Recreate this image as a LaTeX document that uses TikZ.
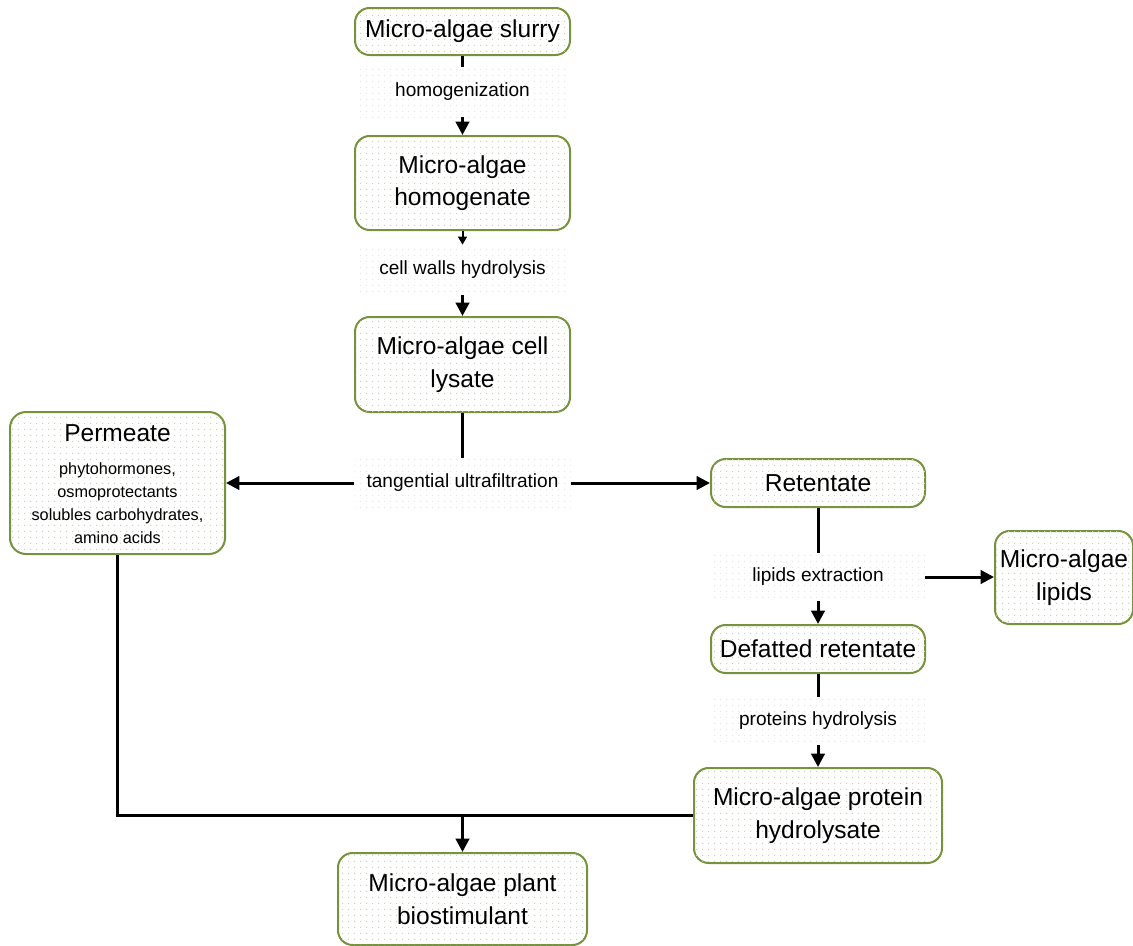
\documentclass[tikz,border=0pt]{standalone}
\usepackage{fontspec}
\setmainfont{Liberation Sans}
\usetikzlibrary{arrows.meta,patterns.meta}
\definecolor{olivebd}{RGB}{118,146,60}
\definecolor{dotgreen}{RGB}{200,215,165}
\definecolor{dotgrey}{RGB}{230,230,230}
\tikzdeclarepattern{name=mydots, type=uncolored,
  bounding box={(0pt,0pt) and (4.5pt,4.5pt)},
  tile size={(4.5pt,4.5pt)},
  code={\fill (0pt,0pt) rectangle (1pt,1pt);}}
\tikzset{
  box/.style={draw=olivebd, line width=1.5pt, rounded corners=11pt, fill=white,
    postaction={pattern=mydots, pattern color=dotgreen},
    align=center, inner sep=0pt, text=black,
    font=\fontsize{18.4}{24.5}\selectfont},
  boxtext/.style={inner sep=0pt, align=center, text=black},
  lab/.style={fill=white, postaction={pattern=mydots, pattern color=dotgrey},
    inner sep=0pt, minimum width=160.5pt, font=\fontsize{14.3}{17}\selectfont},
  conn/.style={line width=2.25pt, black},
  arr/.style={conn, -{Triangle[length=10pt,width=10pt]}},
  smallarr/.style={line width=1.5pt, black, -{Triangle[length=6pt,width=6.5pt]}}
}
\begin{document}
\begin{tikzpicture}[x=0.75pt,y=-0.75pt]
\useasboundingbox (0,0) rectangle (1133,946);
% boxes
\node[box, minimum width=161.25pt, minimum height=35.25pt] (slurry) at (462.5,31.5) {Micro-algae slurry};
\node[box, minimum width=161.25pt, minimum height=70.5pt] (homog) at (462.5,183) {Micro-algae\\homogenate};
\node[box, minimum width=161.25pt, minimum height=71.25pt] (lysate) at (462.5,364.5) {Micro-algae cell\\lysate};
\node[box, rounded corners=12pt, minimum width=161.25pt, minimum height=106.5pt] (perm) at (117.5,483) {};
\node[boxtext, font=\fontsize{18.4}{24.5}\selectfont] (permtitle) at (117.5,433) {Permeate};
\node[boxtext, font=\fontsize{12.2}{17.3}\selectfont] (permsub) at (117.5,503)
  {phytohormones,\\ osmoprotectants\\ solubles carbohydrates,\\ amino acids};
\node[box, minimum width=160.5pt, minimum height=36pt] (ret) at (818,483) {Retentate};
\node[box, minimum width=160.5pt, minimum height=36pt] (def) at (818,649) {Defatted retentate};
\node[box, minimum width=103.5pt, minimum height=69.75pt] (lipids) at (1064,577.5) {Micro-algae\\lipids};
\node[box, minimum width=186pt, minimum height=71.25pt] (hydro) at (818,815.5) {Micro-algae protein\\hydrolysate};
\node[box, minimum width=186.75pt, minimum height=69pt] (biostim) at (462.5,899) {Micro-algae plant\\biostimulant};
% labels
\node[lab, minimum height=37.5pt] (homogen) at (462.5,92) {homogenization};
\node[lab, minimum height=37.5pt] (cellw) at (462.5,270) {cell walls hydrolysis};
\node[lab, minimum height=37.5pt, minimum width=162pt] (tang) at (462.5,483) {tangential ultrafiltration};
\node[lab, minimum height=36pt] (lipext) at (818,577) {lipids extraction};
\node[lab, minimum height=36pt] (prothyd) at (818,721) {proteins hydrolysis};
% connectors
\draw[conn] (slurry) -- (homogen);
\draw[arr] (homogen) -- (homog);
\draw[smallarr] (homog) -- (cellw);
\draw[arr] (cellw) -- (lysate);
\draw[conn] (lysate) -- (tang);
\draw[arr] (tang) -- (perm);
\draw[arr] (tang) -- (ret);
\draw[conn] (ret) -- (lipext);
\draw[arr] (lipext) -- (def);
\draw[arr] (lipext.east) -- (lipext.east -| lipids.west);
\draw[conn] (def) -- (prothyd);
\draw[arr] (prothyd) -- (hydro);
\draw[conn] (perm.south) |- (hydro.west);
\coordinate (junc) at (biostim.north |- hydro.west);
\draw[arr] (junc) -- (biostim.north);
\end{tikzpicture}
\end{document}
